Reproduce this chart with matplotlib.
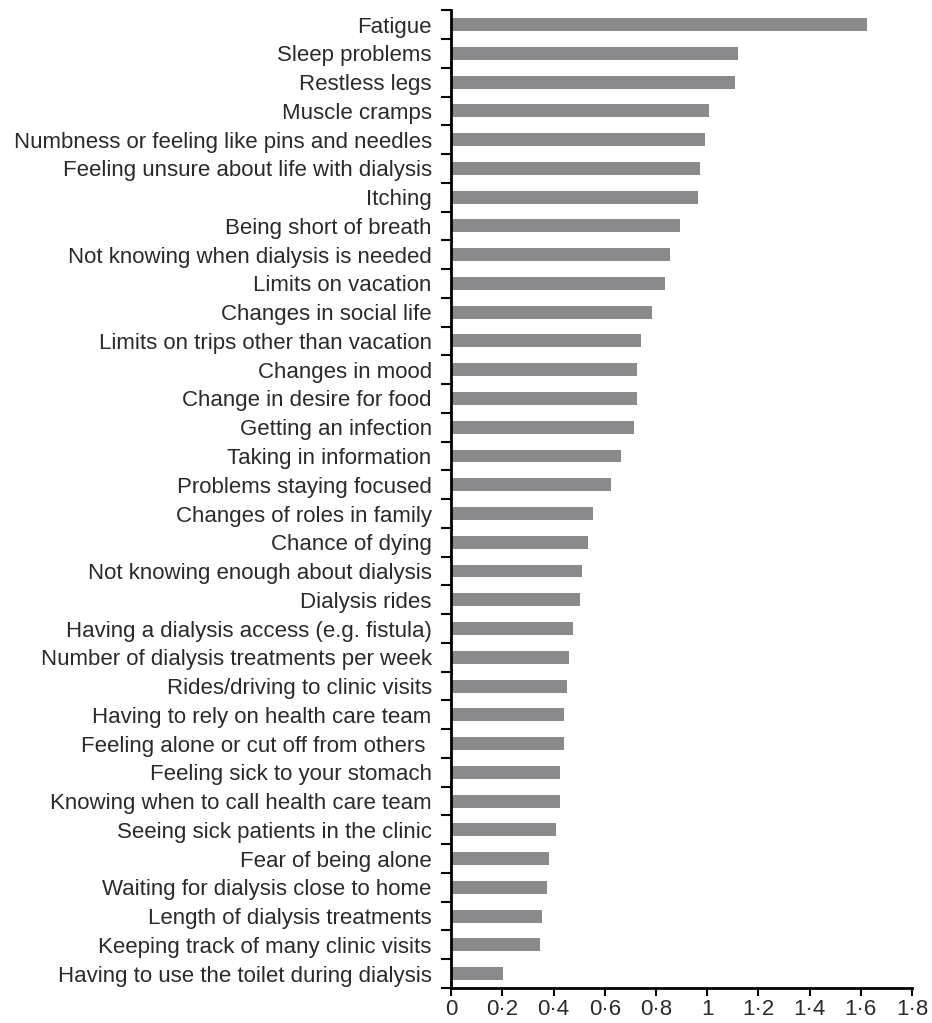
import numpy as np
import matplotlib.pyplot as plt
from matplotlib.ticker import FixedLocator

# symptom / concern labels, top to bottom
labels = [
    'Fatigue', 'Sleep problems', 'Restless legs', 'Muscle cramps',
    'Numbness or feeling like pins and needles',
    'Feeling unsure about life with dialysis', 'Itching',
    'Being short of breath', 'Not knowing when dialysis is needed',
    'Limits on vacation', 'Changes in social life',
    'Limits on trips other than vacation', 'Changes in mood',
    'Change in desire for food', 'Getting an infection',
    'Taking in information', 'Problems staying focused',
    'Changes of roles in family', 'Chance of dying',
    'Not knowing enough about dialysis', 'Dialysis rides',
    'Having a dialysis access (e.g. fistula)',
    'Number of dialysis treatments per week',
    'Rides/driving to clinic visits', 'Having to rely on health care team',
    'Feeling alone or cut off from others ', 'Feeling sick to your stomach',
    'Knowing when to call health care team',
    'Seeing sick patients in the clinic', 'Fear of being alone',
    'Waiting for dialysis close to home', 'Length of dialysis treatments',
    'Keeping track of many clinic visits',
    'Having to use the toilet during dialysis',
]
values = [
    1.625, 1.12, 1.11, 1.008, 0.99, 0.973, 0.965, 0.894, 0.855, 0.836,
    0.785, 0.742, 0.727, 0.727, 0.714, 0.663, 0.626, 0.555, 0.534, 0.513,
    0.505, 0.475, 0.462, 0.454, 0.441, 0.441, 0.426, 0.426, 0.411, 0.384,
    0.375, 0.355, 0.347, 0.204,
]
xticks = [0, 0.2, 0.4, 0.6, 0.8, 1, 1.2, 1.4, 1.6, 1.8]
xticklabels = ['0', '0·2', '0·4', '0·6', '0·8', '1', '1·2', '1·4', '1·6', '1·8']

plt.rcParams['font.family'] = ['Liberation Sans', 'DejaVu Sans']

fig = plt.figure(figsize=(9.32, 10.23), dpi=100)
ax = fig.add_axes([0.484, 0.0342, 0.4945, 0.9558])

n = len(labels)
y = np.arange(n)
ax.barh(y, values, height=0.45, color='#8a8a8c')

ax.set_ylim(n - 0.5, -0.5)
ax.set_xlim(0, 1.8)

# labels at centres, tick marks at the boundaries between bars
ax.set_yticks(y)
ax.set_yticklabels(labels, fontsize=16, color='#2a2a2a')
ax.tick_params(axis='y', which='major', length=0, pad=14)
ax.yaxis.set_minor_locator(FixedLocator(np.arange(n + 1) - 0.5))
ax.tick_params(axis='y', which='minor', length=7, width=1.5, direction='out')

ax.set_xticks(xticks)
ax.set_xticklabels(xticklabels, fontsize=16, color='#2a2a2a')
ax.tick_params(axis='x', length=6, width=1.5, direction='out', pad=2)

for s in ['top', 'right']:
    ax.spines[s].set_visible(False)
for s in ['left', 'bottom']:
    ax.spines[s].set_linewidth(2)

fig.savefig('out.png', dpi=100)
